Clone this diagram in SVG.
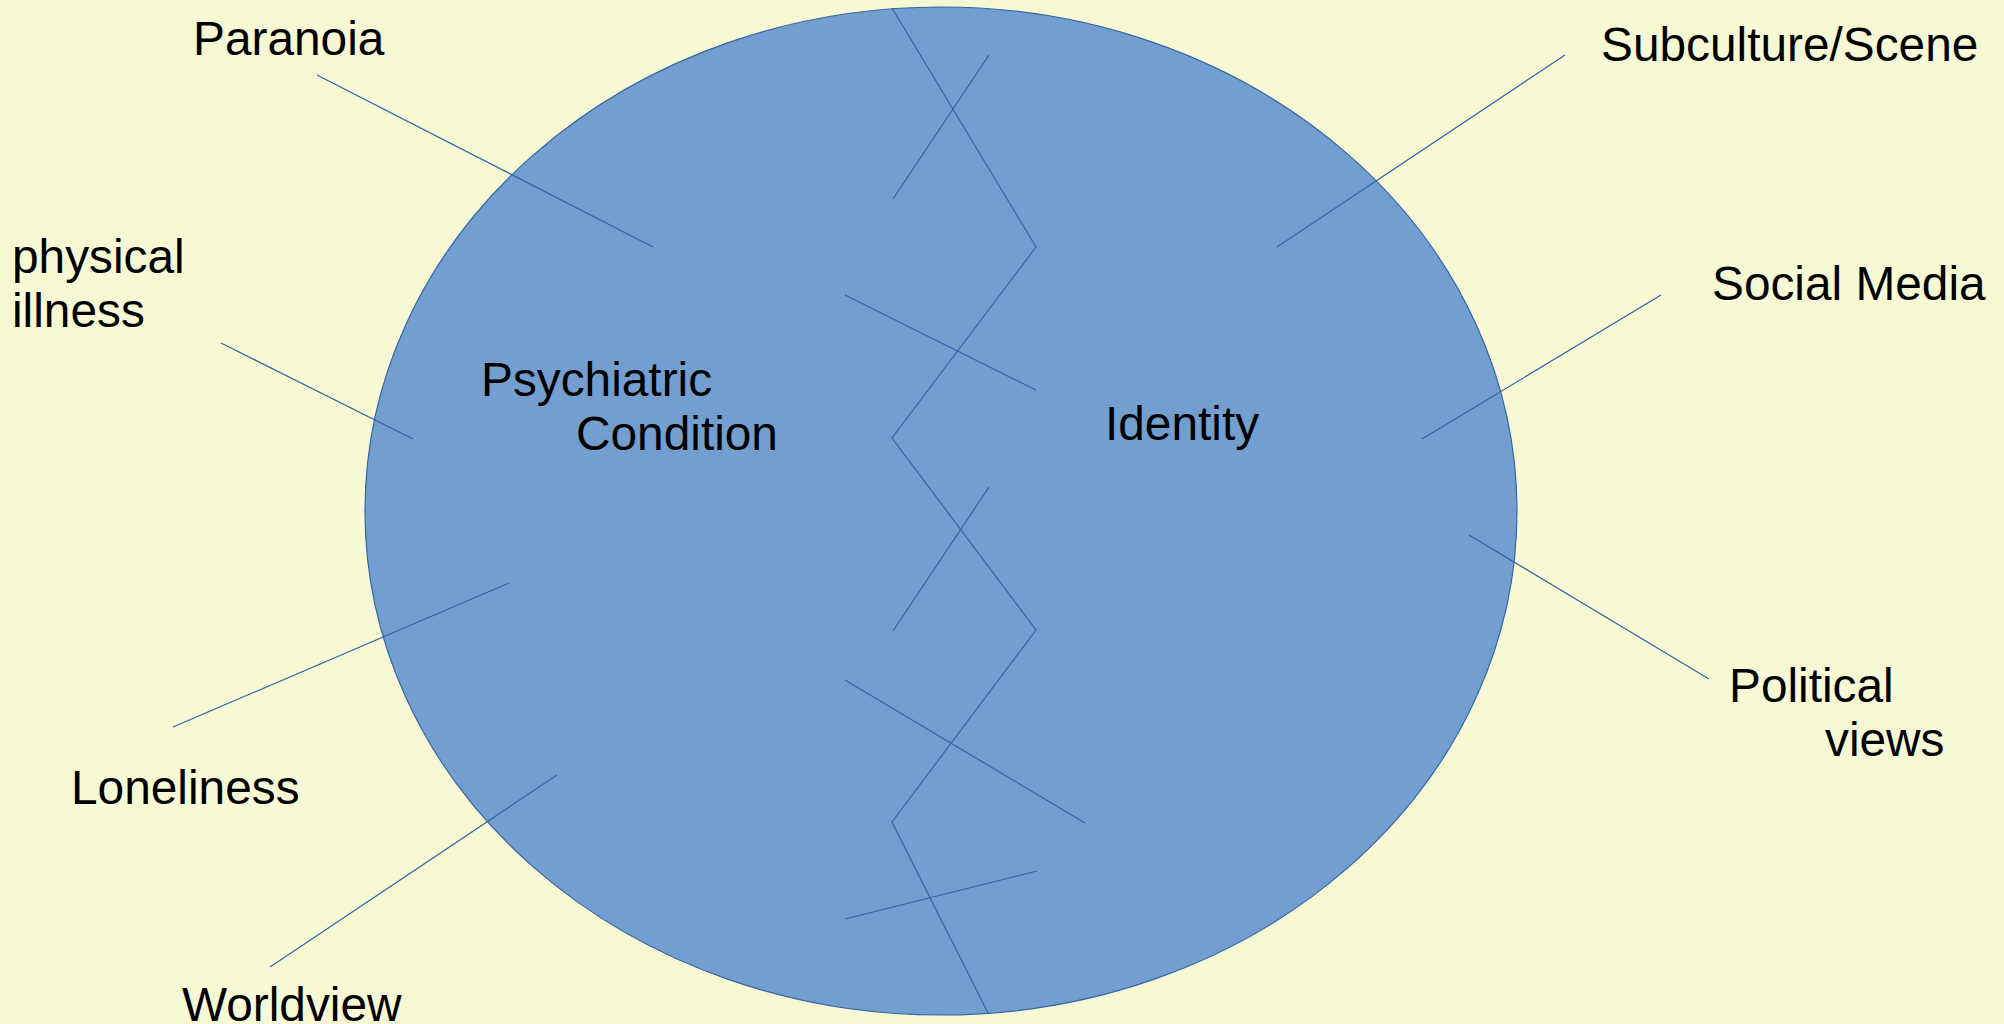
<svg xmlns="http://www.w3.org/2000/svg" width="2004" height="1024" viewBox="0 0 2004 1024">
<style>
.t{font-family:"Liberation Sans",Arial,sans-serif;font-size:47.8px;fill:#000}
.l{stroke:#3465a4;stroke-width:1.2;fill:none}
</style>
<rect width="2004" height="1024" fill="#f7f9d5"/>
<g id="circle"><ellipse cx="941" cy="511" rx="576" ry="504" fill="#729fcf" stroke="#3465a4" stroke-width="1.2"/></g>
<g id="connectors">
<polyline class="l" points="892,8 1036,247 892,438 1036,630 892,822 988,1013"/>
<line class="l" x1="989" y1="55" x2="893" y2="199"/>
<line class="l" x1="845" y1="295" x2="1036" y2="390"/>
<line class="l" x1="989" y1="487" x2="893" y2="631"/>
<line class="l" x1="845" y1="680" x2="1085" y2="823"/>
<line class="l" x1="845" y1="919" x2="1037" y2="871"/>
<line class="l" x1="317" y1="75" x2="653" y2="247"/>
<line class="l" x1="221" y1="343" x2="413" y2="439"/>
<line class="l" x1="173" y1="727" x2="509" y2="583"/>
<line class="l" x1="270" y1="967" x2="557" y2="775"/>
<line class="l" x1="1277" y1="247" x2="1565" y2="55"/>
<line class="l" x1="1422" y1="439" x2="1661" y2="295"/>
<line class="l" x1="1469" y1="535" x2="1709" y2="679"/>
</g>
<g id="paranoia"><text class="t" x="193" y="55">Paranoia</text></g>
<g id="physical"><text class="t" x="12" y="273">physical</text><text class="t" x="12" y="327">illness</text></g>
<g id="psychiatric"><text class="t" x="481" y="396">Psychiatric</text><text class="t" x="576" y="450">Condition</text></g>
<g id="identity"><text class="t" x="1105" y="440">Identity</text></g>
<g id="subculture"><text class="t" x="1601" y="61">Subculture/Scene</text></g>
<g id="social"><text class="t" x="1712" y="300">Social Media</text></g>
<g id="political"><text class="t" x="1729" y="702">Political</text><text class="t" x="1825" y="756">views</text></g>
<g id="loneliness"><text class="t" x="71" y="804">Loneliness</text></g>
<g id="worldview"><text class="t" x="182" y="1021">Worldview</text></g>
</svg>
